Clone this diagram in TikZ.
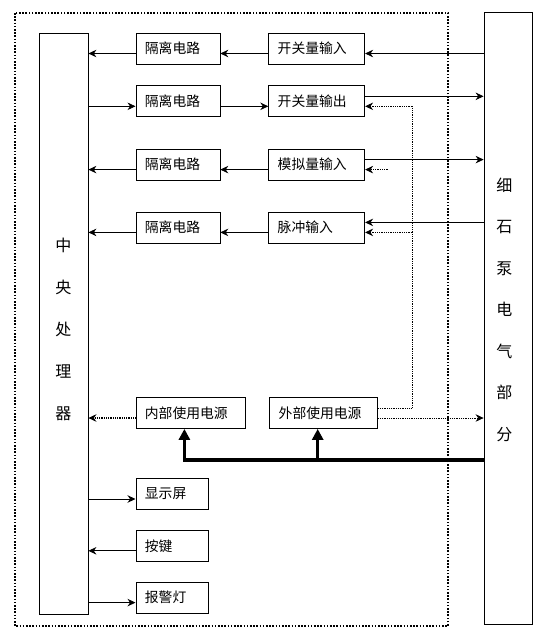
\documentclass[tikz,border=0pt]{standalone}
\usepackage{fontspec}
\newfontfamily\cjk{Noto Sans CJK SC}
\usetikzlibrary{arrows.meta, positioning, calc}
\tikzset{
  bloque/.style={rectangle, draw, line width=0.8pt, text width=#1, inner xsep=9pt, inner ysep=0pt,
                 minimum height=31pt, align=left, font=\cjk\fontsize{13.8}{16}\selectfont},
  columna/.style={rectangle, draw, line width=0.8pt, minimum width=49pt},
  vtexto/.style={align=center, font=\cjk\fontsize{16}{#1}\selectfont},
  flecha/.style={-{Stealth[length=8pt,width=7.5pt]}, line width=0.8pt},
  flechapunto/.style={flecha, densely dotted},
  punteado/.style={line width=0.8pt, densely dotted},
  flechagruesa/.style={-{Triangle[length=11pt,width=11pt]}, line width=3.5pt},
  marco/.style={line width=1.6pt, dash pattern=on 1.6pt off 1.6pt},
}
\begin{document}
\begin{tikzpicture}[x=1pt, y=-1pt]
    \useasboundingbox (0,0) rectangle (544,633);
    \fill[white] (0,0) rectangle (544,633);
    \draw[marco] (15,13) rectangle (448,626);
    % columnas
    \node[columna, minimum height=581pt,
          label={[vtexto=42.2pt, yshift=-6pt]center:{中\\央\\处\\理\\器}}] (cpu) at (63.5,323.5) {};
    \node[columna, minimum width=48.5pt, minimum height=612pt,
          label={[vtexto=41.5pt, yshift=8.5pt, xshift=-4pt]center:{细\\石\\泵\\电\\气\\部\\分}}] (bomba) at (508.25,318) {};
    % entradas y salidas
    \node[bloque=66pt, anchor=west] (iso1) at (135.5,48.5) {隔离电路};
    \node[bloque=66pt, below=21pt of iso1] (iso2) {隔离电路};
    \node[bloque=66pt, below=31.5pt of iso2] (iso3) {隔离电路};
    \node[bloque=66pt, below=31pt of iso3] (iso4) {隔离电路};
    \node[bloque=78pt, right=48pt of iso1] (sw1) {开关量输入};
    \node[bloque=78pt, right=48pt of iso2] (sw2) {开关量输出};
    \node[bloque=78pt, right=48pt of iso3] (ai) {模拟量输入};
    \node[bloque=78pt, right=48pt of iso4] (pulso) {脉冲输入};
    % fuentes
    \node[bloque=91pt, anchor=west] (int) at (135.5,413) {内部使用电源};
    \node[bloque=90pt, right=24pt of int] (ext) {外部使用电源};
    % perifericos
    \node[bloque=54.5pt, anchor=west] (disp) at (135.5,494) {显示屏};
    \node[bloque=54.5pt, below=20pt of disp] (tecla) {按键};
    \node[bloque=54.5pt, below=20pt of tecla] (alarma) {报警灯};
    \coordinate (ramal) at (412,0);
    \coordinate (cabo) at ($(ai.east)+(23,5)$);
    \coordinate (alim) at ($(bomba.west)+(0,142)$);
    % fila 1
    \draw[flecha] ($(sw1.east -| bomba.west)+(0,5)$) -- ($(sw1.east)+(0,5)$);
    \draw[flecha] ($(sw1.west)+(0,5)$) -- ($(iso1.east)+(0,5)$);
    \draw[flecha] ($(iso1.west)+(0,5)$) -- ($(iso1.west -| cpu.east)+(0,5)$);
    % fila 2
    \draw[flecha] ($(iso2.west -| cpu.east)+(0,5)$) -- ($(iso2.west)+(0,5)$);
    \draw[flecha] ($(iso2.east)+(0,5)$) -- ($(sw2.west)+(0,5)$);
    \draw[flecha] ($(sw2.east)+(0,-5)$) -- ($(sw2.east -| bomba.west)+(0,-5)$);
    \draw[flechapunto] ($(sw2.east -| ramal)+(0,5)$) -- ($(sw2.east)+(0,5)$);
    % fila 3
    \draw[flecha] ($(ai.east)+(0,-5)$) -- ($(ai.east -| bomba.west)+(0,-5)$);
    \draw[flechapunto] (cabo) -- ($(ai.east)+(0,5)$);
    \draw[flecha] ($(ai.west)+(0,5)$) -- ($(iso3.east)+(0,5)$);
    \draw[flecha] ($(iso3.west)+(0,5)$) -- ($(iso3.west -| cpu.east)+(0,5)$);
    % fila 4
    \draw[flecha] ($(pulso.east -| bomba.west)+(0,-5)$) -- ($(pulso.east)+(0,-5)$);
    \draw[flechapunto] ($(pulso.east -| ramal)+(0,5)$) -- ($(pulso.east)+(0,5)$);
    \draw[flecha] ($(pulso.west)+(0,5)$) -- ($(iso4.east)+(0,5)$);
    \draw[flecha] ($(iso4.west)+(0,5)$) -- ($(iso4.west -| cpu.east)+(0,5)$);
    % fuentes
    \draw[punteado] ($(ext.east)+(0,-5)$) -- ($(ext.east -| ramal)+(0,-5)$) -- ($(sw2.east -| ramal)+(0,5)$);
    \draw[flechapunto] ($(ext.east)+(0,5)$) -- ($(ext.east -| bomba.west)+(0,5)$);
    \draw[flechapunto, line width=1.5pt] ($(int.west)+(0,5)$) -- ($(int.west -| cpu.east)+(0,5)$);
    \draw[flechagruesa] (alim) -| ($(int.south)+(-6,0)$);
    \draw[flechagruesa] ($(alim -| ext.south)+(-6,0)$) -- ($(ext.south)+(-6,0)$);
    % perifericos
    \draw[flecha] ($(disp.west -| cpu.east)+(0,5)$) -- ($(disp.west)+(0,5)$);
    \draw[flecha] ($(tecla.west)+(0,5)$) -- ($(tecla.west -| cpu.east)+(0,5)$);
    \draw[flecha] ($(alarma.west -| cpu.east)+(0,5)$) -- ($(alarma.west)+(0,5)$);
\end{tikzpicture}
\end{document}
